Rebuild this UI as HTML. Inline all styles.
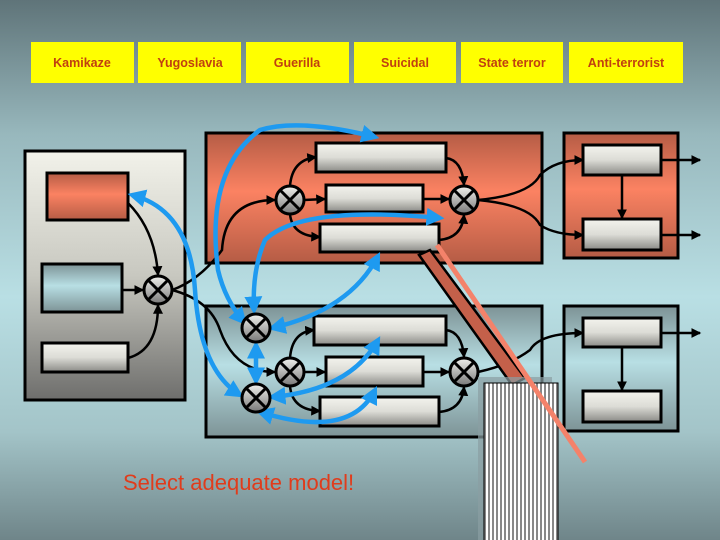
<!DOCTYPE html><html><head><style>body{margin:0}svg{display:block}</style></head><body>
<svg width="720" height="540" viewBox="0 0 720 540" xmlns="http://www.w3.org/2000/svg" font-family="Liberation Sans, sans-serif">
<defs>
<linearGradient id="bg" x1="0" y1="0" x2="0" y2="1"><stop offset="0" stop-color="#5f7479"/><stop offset="0.25" stop-color="#98b8bd"/><stop offset="0.55" stop-color="#b9dfe4"/><stop offset="0.8" stop-color="#a3c4c8"/><stop offset="1" stop-color="#6f8589"/></linearGradient>
<linearGradient id="red" x1="0" y1="0" x2="0" y2="1"><stop offset="0" stop-color="#b55c45"/><stop offset="0.45" stop-color="#fb8262"/><stop offset="1" stop-color="#b55c45"/></linearGradient>
<linearGradient id="cy" x1="0" y1="0" x2="0" y2="1"><stop offset="0" stop-color="#7d9396"/><stop offset="0.45" stop-color="#b8dfe4"/><stop offset="1" stop-color="#7d9396"/></linearGradient>
<linearGradient id="gr" x1="0" y1="0" x2="0" y2="1"><stop offset="0" stop-color="#f2f2ea"/><stop offset="0.5" stop-color="#c8c8c0"/><stop offset="1" stop-color="#6e6e6c"/></linearGradient>
<linearGradient id="wb" x1="0" y1="0" x2="0" y2="1"><stop offset="0" stop-color="#f4f4ee"/><stop offset="0.5" stop-color="#dcdcd6"/><stop offset="1" stop-color="#8a8a86"/></linearGradient>
<linearGradient id="cb" x1="0" y1="0" x2="0" y2="1"><stop offset="0" stop-color="#f2f2ee"/><stop offset="1" stop-color="#777"/></linearGradient>
<pattern id="st" width="4" height="4" patternUnits="userSpaceOnUse"><rect width="4" height="4" fill="#fff"/><rect width="2" height="4" fill="#888"/></pattern>
<marker id="a" markerWidth="4" markerHeight="4" refX="3.5" refY="2" orient="auto"><path d="M0,0L4,2L0,4z" fill="#000"/></marker>
<marker id="b" markerWidth="4" markerHeight="4" refX="3" refY="2" orient="auto"><path d="M0,0L4,2L0,4z" fill="#1e9af0"/></marker>
<marker id="bs" markerWidth="4" markerHeight="4" refX="1" refY="2" orient="auto"><path d="M4,0L0,2L4,4z" fill="#1e9af0"/></marker>
<g id="c"><circle r="14" fill="url(#cb)" stroke="#000" stroke-width="3"/><path d="M-9,-9L9,9M-9,9L9,-9" stroke="#000" stroke-width="3"/></g>
</defs>
<rect width="720" height="540" fill="url(#bg)"/>
<g fill="#ffff00" font-size="12.5" font-weight="bold" text-anchor="middle"><rect x="31" y="42" width="103" height="41"/><rect x="138" y="42" width="103" height="41"/><rect x="246" y="42" width="103" height="41"/><rect x="354" y="42" width="102" height="41"/><rect x="461" y="42" width="102" height="41"/><rect x="569" y="42" width="114" height="41"/>
<g fill="#c04010"><text x="82" y="67">Kamikaze</text><text x="190" y="67">Yugoslavia</text><text x="297" y="67">Guerilla</text><text x="405" y="67">Suicidal</text><text x="512" y="67">State terror</text><text x="626" y="67">Anti-terrorist</text></g></g>
<g stroke="#000" stroke-width="3">
<rect x="25" y="151" width="160" height="249" fill="url(#gr)"/>
<rect x="47" y="173" width="81" height="47" fill="url(#red)"/>
<rect x="42" y="264" width="80" height="48" fill="url(#cy)"/>
<rect x="42" y="343" width="86" height="29" fill="url(#wb)"/>
<rect x="206" y="133" width="336" height="130" fill="url(#red)"/>
<rect x="206" y="306" width="336" height="131" fill="url(#cy)"/>
<rect x="564" y="133" width="114" height="125" fill="url(#red)"/>
<rect x="564" y="306" width="114" height="125" fill="url(#cy)"/>
<g fill="url(#wb)">
<rect x="316" y="143" width="130" height="29"/><rect x="326" y="185" width="97" height="27"/><rect x="320" y="224" width="119" height="28"/>
<rect x="314" y="316" width="132" height="29"/><rect x="326" y="357" width="97" height="29"/><rect x="320" y="397" width="119" height="29"/>
<rect x="583" y="145" width="78" height="30"/><rect x="583" y="219" width="78" height="31"/>
<rect x="583" y="318" width="78" height="29"/><rect x="583" y="391" width="78" height="31"/></g>
</g>
<g fill="none" stroke="#000" stroke-width="2.5" marker-end="url(#a)">
<path d="M128,203 Q155,230 158,275"/><path d="M122,290 L143,290"/><path d="M128,358 Q158,350 158,305"/>
<path d="M172,290 Q200,280 222,250 Q225,200 275,200"/><path d="M172,290 Q210,300 220,330 Q235,372 275,372"/>
<path d="M446,158 Q462,160 464,185"/><path d="M423,199 L449,199"/><path d="M439,240 Q462,238 464,215"/>
<path d="M304,200 L325,199"/><path d="M290,186 Q292,160 316,157"/><path d="M290,214 Q292,236 320,237"/>
<path d="M446,330 Q462,332 464,357"/><path d="M423,372 L449,372"/><path d="M439,412 Q462,410 464,387"/>
<path d="M304,372 L325,372"/><path d="M290,358 Q292,332 314,330"/><path d="M290,386 Q292,410 320,411"/>
<path d="M478,200 Q530,195 540,175 Q555,160 583,160"/><path d="M478,200 Q530,205 540,225 Q555,235 583,235"/>
<path d="M478,372 Q510,365 530,350 Q540,333 583,333"/>
<path d="M622,175 L622,218"/><path d="M622,347 L622,390"/>
<path d="M661,160 L700,160"/><path d="M661,235 L700,235"/><path d="M661,333 L700,333"/>
</g>
<g fill="none" stroke="#1e9af0" stroke-width="4.5">
<path d="M375,137 Q300,118 260,130 Q205,170 218,270 Q225,300 244,322" marker-end="url(#b)" marker-start="url(#bs)"/>
<path d="M440,218 Q300,205 265,240 Q252,270 254,310" marker-end="url(#b)" marker-start="url(#bs)"/>
<path d="M132,195 Q190,210 195,290 Q200,370 240,395" marker-end="url(#b)" marker-start="url(#bs)"/>
<path d="M256,345 L256,381" marker-end="url(#b)" marker-start="url(#bs)"/>
<path d="M378,256 Q350,310 272,328" marker-start="url(#bs)" marker-end="url(#b)"/>
<path d="M378,340 Q350,390 272,397" marker-start="url(#bs)" marker-end="url(#b)"/>
<path d="M375,390 Q350,440 260,412" marker-start="url(#bs)" marker-end="url(#b)"/>
</g>
<use href="#c" x="158" y="290"/><use href="#c" x="290" y="200"/><use href="#c" x="464" y="200"/>
<use href="#c" x="256" y="328"/><use href="#c" x="290" y="372"/><use href="#c" x="256" y="398"/><use href="#c" x="464" y="372"/>
<path d="M419,255 L430,250 L525,378 L512,385 Z" fill="#c4604a" stroke="#000" stroke-width="2.5"/>
<rect x="478" y="377" width="74" height="163" fill="#8a9ea2" opacity="0.7"/>
<rect x="484" y="383" width="74" height="160" fill="url(#st)" stroke="#000" stroke-width="1"/>
<path d="M437,245 L585,462" stroke="#f4826a" stroke-width="5"/>
<text x="123" y="490" font-size="22" fill="#e03c1c">Select adequate model!</text>
</svg>
</body></html>
